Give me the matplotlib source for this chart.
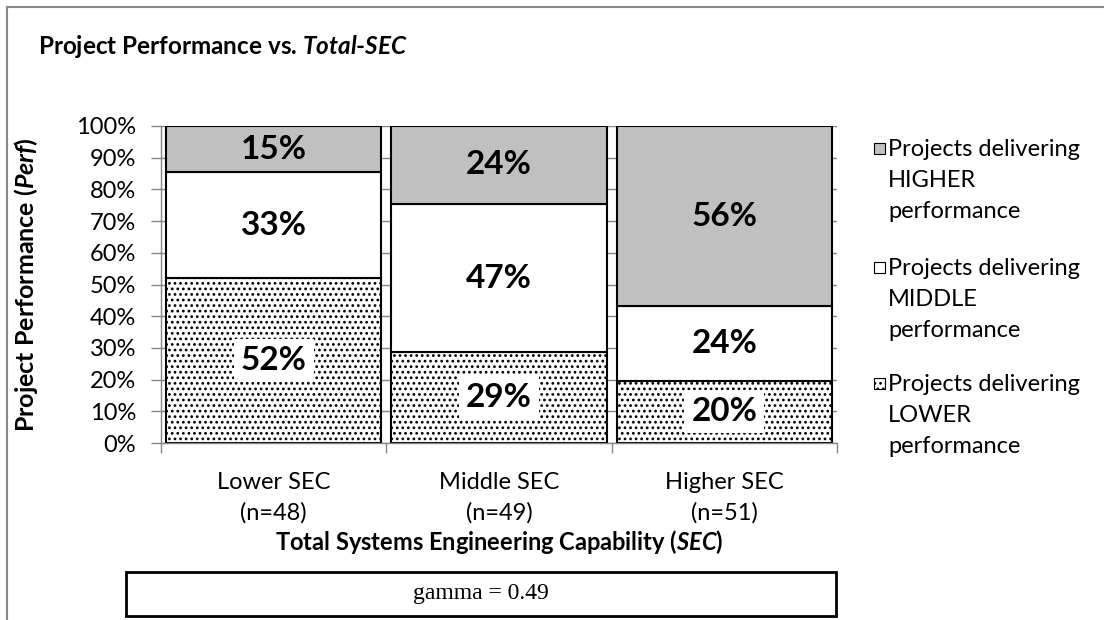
# stacked 100% bar chart: project performance vs total SEC

import numpy as np
import matplotlib.pyplot as plt
from matplotlib.patches import Rectangle
from matplotlib.lines import Line2D

plt.rcParams['font.family'] = ['Lato', 'DejaVu Sans']
plt.rcParams['mathtext.fontset'] = 'custom'
plt.rcParams['mathtext.it'] = 'Lato:italic:bold'
plt.rcParams['hatch.linewidth'] = 1.2

# data
categories = ['Lower SEC\n(n=48)', 'Middle SEC\n(n=49)', 'Higher SEC\n(n=51)']
lower = [52.1, 28.6, 19.6]
middle = [33.3, 46.9, 23.5]
higher = [14.6, 24.5, 56.9]
lower_lbl = ['52%', '29%', '20%']
middle_lbl = ['33%', '47%', '24%']
higher_lbl = ['15%', '24%', '56%']
legend_labels = ['Projects delivering\nHIGHER\nperformance',
                 'Projects delivering\nMIDDLE\nperformance',
                 'Projects delivering\nLOWER\nperformance']
legend_colors = ['#c0c0c0', 'white', 'white']
legend_hatch = [None, None, '...']
gamma_text = 'gamma = 0.49'

W, H = 1104, 620
fig = plt.figure(figsize=(W / 100, H / 100), dpi=100)
ax = fig.add_axes([161 / W, 1 - 443 / H, (837 - 161) / W, (443 - 126) / H])

x = np.arange(len(categories))
width = 0.955
lo = np.array(lower)
mid = np.array(middle)
hi = np.array(higher)

ax.bar(x, lo, width, color='white', edgecolor='black', hatch='...', linewidth=1.5, zorder=2)
ax.bar(x, mid, width, bottom=lo, color='white', edgecolor='black', linewidth=1.5, zorder=2)
ax.bar(x, hi, width, bottom=lo + mid, color='#c0c0c0', edgecolor='black', linewidth=1.5, zorder=2)

# data labels
for i in range(len(x)):
    ax.text(x[i], lo[i] / 2, lower_lbl[i], ha='center', va='center', fontsize=24,
            fontweight='bold', zorder=4,
            bbox=dict(facecolor='white', edgecolor='none', pad=5))
    ax.text(x[i], lo[i] + mid[i] / 2, middle_lbl[i], ha='center', va='center',
            fontsize=24, fontweight='bold', zorder=4)
    ax.text(x[i], lo[i] + mid[i] + hi[i] / 2, higher_lbl[i], ha='center', va='center',
            fontsize=24, fontweight='bold', zorder=4)

ax.set_xlim(-0.5, 2.5)
ax.set_ylim(0, 100)
ax.set_yticks(np.arange(0, 101, 10))
ax.set_yticklabels(['%d%%' % v for v in range(0, 101, 10)], fontsize=17)
ax.yaxis.grid(True, color='#868686', linewidth=1, zorder=0)
ax.set_axisbelow(True)

ax.set_xticks(x)
ax.set_xticklabels(categories, fontsize=17, linespacing=1.5)
ax.set_xticks([-0.5, 0.5, 1.5, 2.5], minor=True)
ax.tick_params(axis='x', which='major', length=0, pad=21)
ax.tick_params(axis='x', which='minor', length=7, color='#868686', width=1)
ax.tick_params(axis='y', length=7, color='#868686', width=1, pad=11)

for s in ['top', 'right']:
    ax.spines[s].set_visible(False)
for s in ['left', 'bottom']:
    ax.spines[s].set_color('#868686')
    ax.spines[s].set_linewidth(1)

ax.set_ylabel(r'Project Performance ($\mathit{Perf}$)', fontsize=18, fontweight='bold')
ax.yaxis.set_label_coords((40 - 161) / (837 - 161), 0.5)

# title and x axis title
fig.text(38 / W, 1 - 47 / H, r'Project Performance vs. $\mathit{Total}$-$\mathit{SEC}$',
         fontsize=17.5, fontweight='bold', va='center', ha='left')
fig.text(499 / W, 1 - 542 / H, r'Total Systems Engineering Capability ($\mathit{SEC}$)',
         fontsize=17, fontweight='bold', va='center', ha='center')

# legend, square aligned with first text line
first_line = [148, 267, 383]
for i in range(3):
    yc = 1 - first_line[i] / H
    fig.add_artist(Rectangle((874 / W, yc - 5.5 / H), 11 / W, 11 / H,
                             transform=fig.transFigure, facecolor=legend_colors[i],
                             edgecolor='black', linewidth=0.8, hatch=legend_hatch[i]))
    fig.text(888 / W, yc + 9 / H, legend_labels[i], fontsize=17, va='top', ha='left',
             linespacing=1.6)

# gamma box
fig.add_artist(Rectangle((126 / W, 1 - 616 / H), (836 - 126) / W, 44 / H,
                         transform=fig.transFigure, facecolor='white',
                         edgecolor='black', linewidth=2))
fig.text(481 / W, 1 - 594 / H, gamma_text, family='Liberation Serif', fontsize=17,
         ha='center', va='center')

# outer chart border (top and left)
fig.add_artist(Line2D([7 / W, 1], [1 - 7 / H, 1 - 7 / H], transform=fig.transFigure,
                      color='#888888', linewidth=1.5))
fig.add_artist(Line2D([7 / W, 7 / W], [0, 1 - 7 / H], transform=fig.transFigure,
                      color='#888888', linewidth=1.5))

fig.savefig('out.png', dpi=100)
